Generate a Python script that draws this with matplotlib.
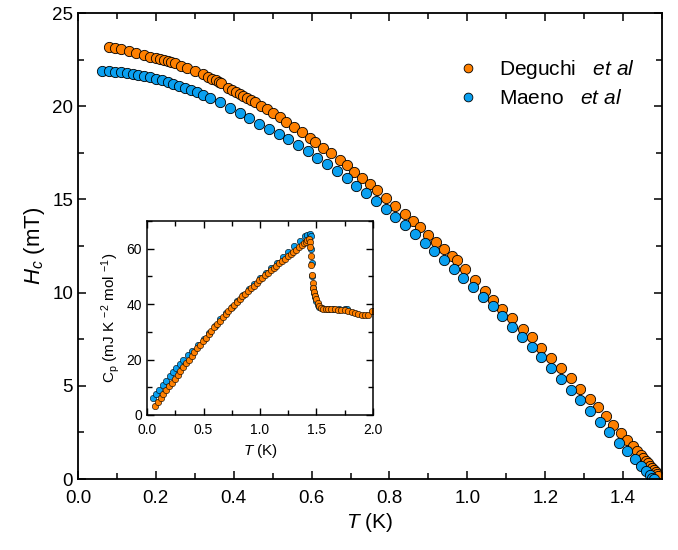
import matplotlib
matplotlib.use('Agg')
import matplotlib.pyplot as plt
from matplotlib.ticker import MultipleLocator

plt.rcParams['font.family'] = ['Liberation Sans', 'DejaVu Sans']
plt.rcParams['mathtext.fontset'] = 'custom'
plt.rcParams['mathtext.rm'] = 'Liberation Sans'
plt.rcParams['mathtext.it'] = 'Liberation Sans:italic'

# critical field, Deguchi et al (orange)
T_deg = [0.080, 0.095, 0.110, 0.130, 0.150, 0.170, 0.185, 0.200, 0.210, 0.220,
         0.230, 0.240, 0.250, 0.265, 0.280, 0.300, 0.320, 0.335, 0.345, 0.355,
         0.362, 0.368, 0.385, 0.395, 0.405, 0.415, 0.425, 0.435, 0.445, 0.455,
         0.470, 0.485, 0.500, 0.519, 0.535, 0.555, 0.575, 0.596, 0.610, 0.630,
         0.650, 0.673, 0.690, 0.710, 0.730, 0.750, 0.767, 0.790, 0.815, 0.840,
         0.860, 0.878, 0.900, 0.920, 0.940, 0.960, 0.973, 0.995, 1.020, 1.045,
         1.066, 1.090, 1.115, 1.143, 1.165, 1.190, 1.215, 1.240, 1.265, 1.290,
         1.315, 1.335, 1.355, 1.375, 1.395, 1.410, 1.425, 1.435, 1.445, 1.452,
         1.458, 1.464, 1.470, 1.475, 1.480, 1.484, 1.488, 1.491]
H_deg = [23.15, 23.10, 23.05, 22.98, 22.88, 22.72, 22.65, 22.58, 22.52, 22.47,
         22.42, 22.37, 22.30, 22.18, 22.05, 21.90, 21.72, 21.58, 21.48, 21.38,
         21.31, 21.25, 21.00, 20.88, 20.78, 20.66, 20.55, 20.44, 20.32, 20.20,
         20.02, 19.83, 19.64, 19.40, 19.17, 18.88, 18.60, 18.30, 18.08, 17.78,
         17.47, 17.10, 16.82, 16.48, 16.15, 15.80, 15.50, 15.10, 14.65, 14.20,
         13.83, 13.50, 13.10, 12.72, 12.35, 11.98, 11.75, 11.24, 10.66, 10.08,
         9.60, 9.12, 8.62, 8.07, 7.60, 7.05, 6.50, 5.95, 5.40, 4.85,
         4.30, 3.85, 3.38, 2.92, 2.45, 2.10, 1.75, 1.52, 1.28, 1.12,
         0.98, 0.84, 0.70, 0.58, 0.46, 0.36, 0.26, 0.18]

# critical field, Maeno et al (blue)
T_mae = [0.062, 0.080, 0.095, 0.110, 0.125, 0.140, 0.155, 0.170, 0.185, 0.200,
         0.215, 0.230, 0.245, 0.260, 0.275, 0.290, 0.305, 0.320, 0.340, 0.365,
         0.390, 0.415, 0.440, 0.465, 0.490, 0.515, 0.540, 0.565, 0.590, 0.615,
         0.640, 0.665, 0.690, 0.715, 0.740, 0.765, 0.790, 0.815, 0.840, 0.865,
         0.890, 0.915, 0.940, 0.965, 0.990, 1.015, 1.040, 1.065, 1.090, 1.115,
         1.140, 1.165, 1.190, 1.215, 1.240, 1.265, 1.290, 1.315, 1.340, 1.365,
         1.390, 1.410, 1.430, 1.445, 1.458, 1.468, 1.475, 1.480]
H_mae = [21.90, 21.88, 21.85, 21.82, 21.78, 21.74, 21.68, 21.62, 21.55, 21.47,
         21.39, 21.30, 21.20, 21.10, 20.99, 20.87, 20.75, 20.62, 20.45, 20.20,
         19.93, 19.65, 19.35, 19.05, 18.78, 18.52, 18.25, 17.93, 17.58, 17.20,
         16.88, 16.52, 16.13, 15.72, 15.32, 14.90, 14.48, 14.05, 13.60, 13.15,
         12.68, 12.22, 11.75, 11.25, 10.78, 10.28, 9.78, 9.26, 8.74, 8.18,
         7.62, 7.08, 6.52, 5.95, 5.38, 4.80, 4.22, 3.66, 3.08, 2.52,
         1.95, 1.50, 1.05, 0.72, 0.42, 0.22, 0.08, 0.02]

# specific heat (inset)
Tc_deg = [0.070, 0.095, 0.120, 0.145, 0.170, 0.195, 0.220, 0.245, 0.270, 0.295,
          0.320, 0.345, 0.370, 0.395, 0.420, 0.445, 0.470, 0.495, 0.520, 0.545,
          0.570, 0.595, 0.620, 0.645, 0.670, 0.695, 0.720, 0.745, 0.770, 0.795,
          0.820, 0.845, 0.870, 0.895, 0.920, 0.945, 0.970, 0.995, 1.020, 1.045,
          1.070, 1.095, 1.120, 1.145, 1.170, 1.195, 1.220, 1.245, 1.270, 1.295,
          1.320, 1.345, 1.370, 1.390, 1.410, 1.420, 1.430, 1.440, 1.445, 1.450,
          1.455, 1.460, 1.465, 1.470, 1.480, 1.490, 1.500, 1.510, 1.520, 1.540,
          1.560, 1.580, 1.600, 1.630, 1.660, 1.690, 1.720, 1.750, 1.780, 1.810,
          1.840, 1.870, 1.900, 1.930, 1.960, 1.990]
Cp_deg = [3.3, 4.7, 6.1, 7.5, 8.9, 10.3, 11.7, 13.1, 14.5, 15.8,
          17.2, 18.6, 19.9, 21.3, 22.6, 24.0, 25.3, 26.6, 27.9, 29.2,
          30.4, 31.6, 32.8, 34.0, 35.2, 36.3, 37.4, 38.5, 39.6, 40.7,
          41.8, 42.8, 43.8, 44.8, 45.8, 46.7, 47.7, 48.6, 49.5, 50.4,
          51.3, 52.2, 53.1, 53.9, 54.8, 55.6, 56.4, 57.3, 58.1, 58.9,
          59.7, 60.5, 61.3, 61.9, 62.6, 63.0, 63.4, 62.5, 60.5, 57.5,
          54.0, 50.5, 47.5, 46.0, 44.5, 43.0, 41.8, 40.5, 39.5, 38.6,
          38.3, 38.2, 38.2, 38.1, 38.1, 38.0, 38.0, 37.9, 37.6, 37.2,
          36.8, 36.5, 36.2, 36.0, 36.0, 37.5]

Tc_mae = [0.053, 0.080, 0.110, 0.140, 0.170, 0.200, 0.230, 0.260, 0.290, 0.320,
          0.360, 0.400, 0.450, 0.500, 0.550, 0.600, 0.650, 0.700, 0.750, 0.800,
          0.850, 0.900, 0.950, 1.000, 1.050, 1.100, 1.150, 1.200, 1.250, 1.300,
          1.350, 1.400, 1.420, 1.440, 1.450, 1.455, 1.460, 1.462, 1.467, 1.475,
          1.490, 1.500, 1.510, 1.520, 1.550, 1.600, 1.650, 1.700, 1.750, 1.770]
Cp_mae = [6.3, 7.6, 9.2, 10.8, 12.4, 14.0, 15.5, 17.0, 18.4, 19.8,
          21.6, 23.2, 25.2, 27.4, 29.7, 32.1, 34.5, 36.9, 39.1, 41.3,
          43.4, 45.4, 47.4, 49.3, 51.2, 53.1, 55.0, 56.9, 58.8, 60.8,
          62.7, 64.5, 65.1, 65.4, 64.5, 60.0, 55.0, 50.0, 46.0, 44.0,
          42.5, 41.0, 39.8, 38.9, 38.5, 38.3, 38.3, 38.3, 38.3, 38.3]

orange = '#FF8000'
blue = '#0AA0F0'

fig = plt.figure(figsize=(6.78, 5.5), dpi=100)
ax = fig.add_axes([78/678, 71/550, 584/678, 466/550])

ax.plot(T_deg, H_deg, 'o', ms=7.4, mfc=orange, mec='black', mew=0.6,
        label='Deguchi   $\\mathit{et\\ al}$')
ax.plot(T_mae, H_mae, 'o', ms=7.4, mfc=blue, mec='black', mew=0.6,
        label='Maeno   $\\mathit{et\\ al}$')

ax.set_xlim(0, 1.5)
ax.set_ylim(0, 25)
ax.xaxis.set_major_locator(MultipleLocator(0.2))
ax.xaxis.set_minor_locator(MultipleLocator(0.1))
ax.yaxis.set_major_locator(MultipleLocator(5))
ax.yaxis.set_minor_locator(MultipleLocator(2.5))
ax.tick_params(which='both', direction='in', top=True, right=True, width=1.1,
               labelsize=13.5)
ax.tick_params(which='major', length=6)
ax.tick_params(which='minor', length=4)
ax.tick_params(axis='x', pad=8)
for s in ax.spines.values():
    s.set_linewidth(1.3)
ax.set_xticklabels(['%.1f' % v for v in ax.get_xticks()])
ax.set_xlabel('$T$ (K)', fontsize=15, labelpad=3)
ax.set_ylabel('$H_c$ (mT)', fontsize=16, labelpad=4)

ax.legend(loc='upper right', bbox_to_anchor=(0.975, 0.93), frameon=False,
          fontsize=15, handletextpad=0.9, borderaxespad=0.2, labelspacing=0.38,
          handlelength=1.2, markerscale=0.85)

# inset
ins = fig.add_axes([147/678, 135/550, 226/678, 194/550])
ins.plot(Tc_mae, Cp_mae, 'o', ms=4.6, mfc=blue, mec='black', mew=0.4)
ins.plot(Tc_deg, Cp_deg, 'o', ms=4.6, mfc=orange, mec='black', mew=0.4)
ins.set_xlim(0, 2.0)
ins.set_ylim(0, 70)
ins.xaxis.set_major_locator(MultipleLocator(0.5))
ins.xaxis.set_minor_locator(MultipleLocator(0.25))
ins.yaxis.set_major_locator(MultipleLocator(20))
ins.yaxis.set_minor_locator(MultipleLocator(10))
ins.tick_params(which='both', direction='in', top=True, right=True, width=1.0,
                labelsize=10)
ins.tick_params(which='major', length=5)
ins.tick_params(which='minor', length=3.5)
ins.tick_params(axis='x', pad=6)
for s in ins.spines.values():
    s.set_linewidth(1.1)
ins.set_xticklabels(['%.1f' % v for v in ins.get_xticks()])
ins.set_xlabel('$T$ (K)', fontsize=11, labelpad=3)
ins.set_ylabel('C$_\\mathrm{p}$ (mJ K $^{-2}$ mol $^{-1}$)', fontsize=11,
               labelpad=3)

fig.savefig('out.png', dpi=100)
